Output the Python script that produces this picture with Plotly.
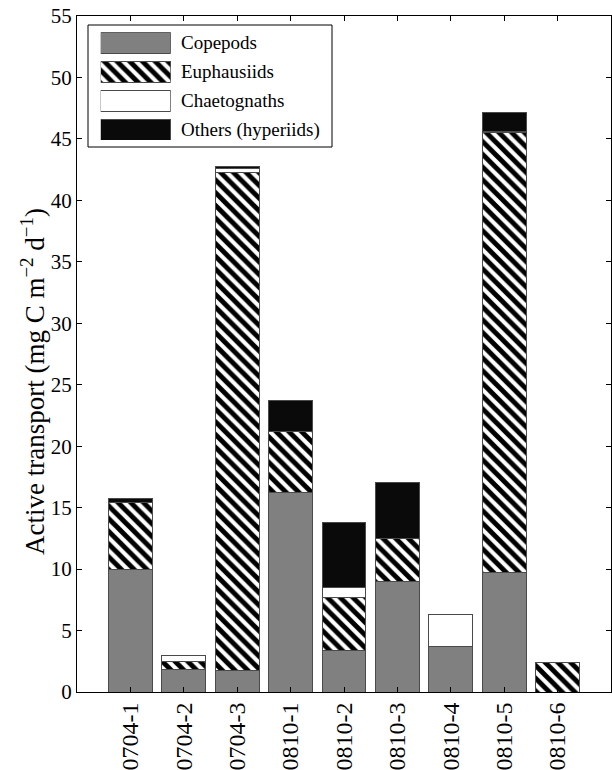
import plotly.graph_objects as go

categories = ['0704-1', '0704-2', '0704-3', '0810-1', '0810-2', '0810-3', '0810-4', '0810-5', '0810-6']
copepods = [10.0, 1.85, 1.79, 16.27, 3.39, 8.98, 3.69, 9.71, 0.0]
euphausiids = [5.40, 0.62, 40.50, 4.91, 4.31, 3.50, 0.0, 35.80, 2.41]
chaetognaths = [0.0, 0.52, 0.30, 0.0, 0.79, 0.0, 2.63, 0.10, 0.0]
others = [0.33, 0.0, 0.20, 2.55, 5.31, 4.58, 0.0, 1.50, 0.0]
series_names = ['Copepods', 'Euphausiids', 'Chaetognaths', 'Others (hyperiids)']
y_ticks = [0, 5, 10, 15, 20, 25, 30, 35, 40, 45, 50, 55]

FONT = 'Liberation Serif, Times New Roman, serif'
EDGE = dict(color='#4a4a4a', width=1)
GRAY = '#808080'
BLACK = '#0a0a0a'
HATCH = dict(shape='\\', fgcolor='black', bgcolor='white', fgopacity=1, size=9, solidity=0.55)

styles = [
    dict(color=GRAY, line=EDGE),
    dict(color='white', line=EDGE, pattern=HATCH),
    dict(color='white', line=EDGE),
    dict(color=BLACK, line=EDGE),
]

fig = go.Figure()
for name, vals, st in zip(series_names, [copepods, euphausiids, chaetognaths, others], styles):
    fig.add_trace(go.Bar(x=categories, y=vals, name=name, marker=st, width=0.82,
                         showlegend=False, xaxis='x', yaxis='y'))

# custom legend drawn with bars on a small overlay axis
for i, (name, st) in enumerate(zip(series_names, styles)):
    fig.add_trace(go.Bar(x=[1], y=[3 - i], orientation='h', marker=st, width=0.724,
                         showlegend=False, xaxis='x2', yaxis='y2', hoverinfo='skip'))

W, H = 612, 770
L, R, T, B = 77, 1, 16, 78
pw, ph = W - L - R, H - T - B

def px(xp):
    return (xp - L) / pw

def py(yp):
    return 1 - (yp - T) / ph

fig.update_layout(
    width=W, height=H,
    margin=dict(l=L, r=R, t=T, b=B, autoexpand=False),
    barmode='stack',
    paper_bgcolor='white', plot_bgcolor='white',
    font=dict(family=FONT, size=21, color='black'),
    xaxis=dict(type='category', categoryorder='array', categoryarray=categories,
               range=[-1, 9], ticks='inside', ticklen=5, tickcolor='black',
               showline=True, linecolor='black', linewidth=1, mirror='ticks',
               showgrid=False, zeroline=False, tickangle=-90, automargin=False,
               tickfont=dict(family=FONT, size=24)),
    yaxis=dict(range=[0, 55], tickvals=y_ticks, ticks='inside', ticklen=5,
               tickcolor='black', showline=True, linecolor='black', linewidth=1,
               mirror='ticks', showgrid=False, zeroline=False, automargin=False,
               tickfont=dict(family=FONT, size=21)),
    xaxis2=dict(domain=[px(100.7), px(170.7)], anchor='y2', range=[0, 1], visible=False),
    yaxis2=dict(domain=[py(140), py(32.3)], anchor='x2', range=[-0.362, 3.362], visible=False),
    shapes=[dict(type='rect', xref='paper', yref='paper', x0=px(88), x1=px(332),
                 y0=py(147), y1=py(25), line=dict(color='black', width=1),
                 fillcolor='white', layer='below')],
)

row_y = [42.8, 71.8, 100.5, 129.5]
for name, yy in zip(series_names, row_y):
    fig.add_annotation(text=name, xref='paper', yref='paper', x=px(179), y=py(yy),
                       xanchor='left', yanchor='middle', showarrow=False,
                       font=dict(family=FONT, size=19, color='black'))

fig.add_annotation(text='Active transport (mg C m<sup>\u22122</sup> d<sup>\u22121</sup>)',
                   xref='paper', yref='paper', x=px(33), y=py(382), textangle=-90,
                   xanchor='center', yanchor='middle', showarrow=False,
                   font=dict(family=FONT, size=27, color='black'))

fig.write_html('out.html', config={'displayModeBar': False},
               post_script="document.body.style.margin='0';document.body.style.overflow='hidden';")
